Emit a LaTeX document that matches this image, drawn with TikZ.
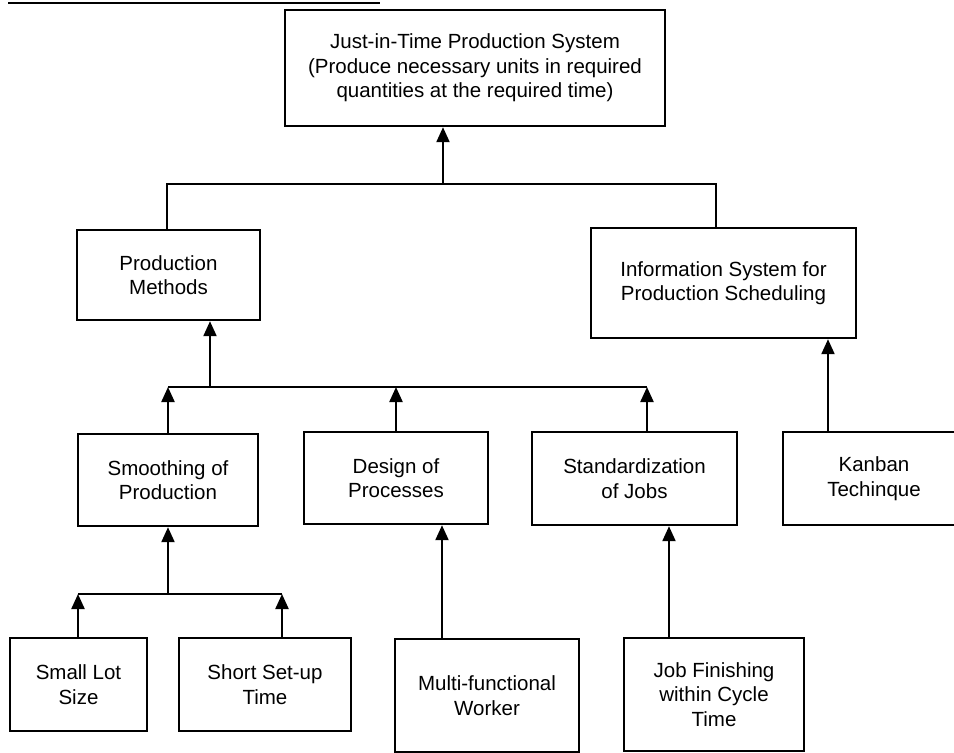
\documentclass[tikz,border=0pt]{standalone}
\usepackage{fontspec}
\setmainfont{Liberation Sans}
\usetikzlibrary{arrows.meta}
\begin{document}
\begin{tikzpicture}[x=1pt,y=-1pt,
  box/.style={draw, line width=2.4pt, inner sep=0pt, align=center,
    font=\fontsize{20.5}{24.5}\selectfont},
  link/.style={line width=2.2pt},
  arr/.style={link, -{Triangle[width=13pt,length=15pt]}}]
\useasboundingbox (0,0) rectangle (954,753);
\clip (0,0) rectangle (954,753);
\fill[white] (0,0) rectangle (954,753);

% rule along the upper edge
\draw[line width=1.6pt] (8,3) -- (380,3);

% boxes
\node[box, minimum width=380pt, minimum height=116pt] (top) at (475,68)
  {Just-in-Time Production System\\(Produce necessary units in required\\quantities at the required time)};
\node[box, minimum width=183pt, minimum height=90pt] (pm) at (168.5,275) {Production\\Methods};
\node[box, minimum width=265pt, minimum height=110pt] (info) at (723.5,283) {Information System for\\Production Scheduling};
\node[box, minimum width=180pt, minimum height=92pt] (smooth) at (168,480) {Smoothing of\\Production};
\node[box, minimum width=184pt, minimum height=92pt] (design) at (396,478) {Design of\\Processes};
\node[box, minimum width=205pt, minimum height=93pt] (std) at (634.5,478.5) {Standardization\\of Jobs};
\node[box, minimum width=182pt, minimum height=93pt] (kanban) at (874,478.5) {Kanban\\Techinque};
\node[box, minimum width=137pt, minimum height=93pt] (small) at (78.5,684.5) {Small Lot\\Size};
\node[box, minimum width=172pt, minimum height=93pt] (short) at (265,684.5) {Short Set-up\\Time};
\node[box, minimum width=184pt, minimum height=113pt] (multi) at (487,695.5) {Multi-functional\\Worker};
\node[box, minimum width=180pt, minimum height=113pt] (job) at (714,694.5) {Job Finishing\\within Cycle\\Time};

% junction points
\coordinate (j1) at (443,184);
\coordinate (b1a) at (167,184);
\coordinate (b1b) at (716,184);
\coordinate (j2) at (210,387);
\coordinate (b2a) at (168,387);
\coordinate (b2b) at (647,387);
\coordinate (b3a) at (78,594);
\coordinate (b3b) at (282,594);
\coordinate (kx) at (828,0);
\coordinate (mx) at (442,0);
\coordinate (jx) at (669,0);

% level 1
\draw[link] (pm.north -| b1a) -- (b1a) -- (b1b) -- (info.north -| b1b);
\draw[arr] (j1) -- (top.south -| j1);
\draw[arr] (kanban.north -| kx) -- (info.south -| kx);

% level 2
\draw[link] (b2a) -- (b2b);
\draw[arr] (j2) -- (pm.south -| j2);
\draw[arr] (smooth.north -| b2a) -- (b2a);
\draw[arr] (design.north) -- (design.north |- b2a);
\draw[arr] (std.north -| b2b) -- (b2b);

% level 3
\draw[link] (b3a) -- (b3b);
\draw[arr] (smooth.south |- b3a) -- (smooth.south);
\draw[arr] (small.north -| b3a) -- (b3a);
\draw[arr] (short.north -| b3b) -- (b3b);
\draw[arr] (multi.north -| mx) -- (design.south -| mx);
\draw[arr] (job.north -| jx) -- (std.south -| jx);
\end{tikzpicture}
\end{document}
